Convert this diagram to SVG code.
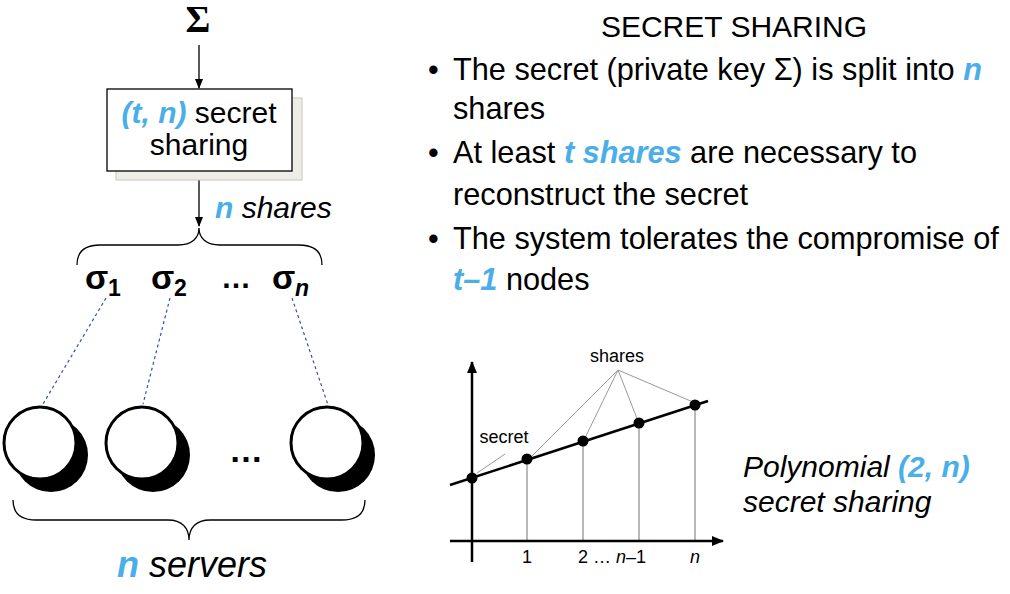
<svg xmlns="http://www.w3.org/2000/svg" width="1010" height="594" viewBox="0 0 1010 594">
<style>
.t{font-family:"Liberation Sans",Arial,sans-serif;fill:#000}
.b{fill:#4aaee8;font-weight:bold;font-style:italic}
.i{font-style:italic}
.sig{font-family:"Liberation Sans",Arial,sans-serif;font-weight:bold;font-size:34px}
.sub{font-family:"Liberation Sans",Arial,sans-serif;font-weight:bold;font-size:23px}
.bl{font-size:30.7px}
.dash{stroke:#2d52b5;stroke-width:1.2;stroke-dasharray:3 3;fill:none}
.thin{stroke:#9a9a9a;stroke-width:1;fill:none}
.grid{stroke:#8a8a8a;stroke-width:1.2;fill:none}
.brace{stroke:#000;stroke-width:1.3;fill:none}
</style>
<defs>
<marker id="ah" markerWidth="10" markerHeight="10" refX="9" refY="5" orient="auto" markerUnits="userSpaceOnUse">
<path d="M0,1 L10,5 L0,9 Z" fill="#000"/>
</marker>
<marker id="ax" markerWidth="12" markerHeight="12" refX="11" refY="6" orient="auto" markerUnits="userSpaceOnUse">
<path d="M0,1 L12,6 L0,11 Z" fill="#000"/>
</marker>
</defs>
<rect width="1010" height="594" fill="#fff"/>

<g id="connectors">
<line x1="199" y1="45" x2="199" y2="88" stroke="#000" stroke-width="1.3" marker-end="url(#ah)"/>
<line x1="199" y1="171" x2="199" y2="226" stroke="#000" stroke-width="1.3" marker-end="url(#ah)"/>
<line class="dash" x1="106" y1="298" x2="43" y2="404"/>
<line class="dash" x1="170" y1="298" x2="143" y2="404"/>
<line class="dash" x1="292" y1="298" x2="328" y2="405"/>
</g>

<g id="n-sigma">
<text x="198" y="32" text-anchor="middle" style="font-family:'Liberation Serif','DejaVu Serif',serif;font-weight:bold;font-size:38px">Σ</text>
</g>

<g id="n-box">
<rect x="116" y="98" width="186" height="82" fill="#eeede8" stroke="#c8c6c0" stroke-width="1"/>
<rect x="107" y="89" width="185" height="82" fill="#fff" stroke="#000" stroke-width="1.3"/>
<text class="t" x="199" y="123" text-anchor="middle" font-size="30"><tspan class="b">(t, n)</tspan> secret</text>
<text class="t" x="199" y="155" text-anchor="middle" font-size="30">sharing</text>
</g>

<g id="n-shares-label">
<text class="t" x="215" y="218" font-size="30"><tspan class="b">n</tspan><tspan class="i"> shares</tspan></text>
</g>

<g id="n-brace-top">
<path class="brace" d="M77,265 C77,252 84,245 100,245 L178,245 C192,245 199,238 199,228 C199,238 206,245 220,245 L299,245 C315,245 322,252 322,265"/>
</g>

<g id="n-sig1">
<text class="sig" x="85" y="289">σ</text>
<text class="sub" x="108" y="296">1</text>
</g>
<g id="n-sig2">
<text class="sig" x="151" y="289">σ</text>
<text class="sub" x="174" y="296">2</text>
</g>
<g id="n-dots-top">
<text class="t" x="236" y="288" text-anchor="middle" font-size="30" font-weight="bold">…</text>
</g>
<g id="n-sign">
<text class="sig" x="272" y="289">σ</text>
<text class="sub" x="295" y="296" font-style="italic">n</text>
</g>

<g id="n-server1">
<circle cx="51" cy="455" r="37" fill="#000"/>
<circle cx="40" cy="443" r="36" fill="#fff" stroke="#000" stroke-width="3"/>
</g>
<g id="n-server2">
<circle cx="153" cy="455" r="37" fill="#000"/>
<circle cx="142" cy="443" r="36" fill="#fff" stroke="#000" stroke-width="3"/>
</g>
<g id="n-dots-bottom">
<text class="t" x="246" y="462" text-anchor="middle" font-size="34" font-weight="bold">…</text>
</g>
<g id="n-server3">
<circle cx="338" cy="455" r="37" fill="#000"/>
<circle cx="327" cy="443" r="36" fill="#fff" stroke="#000" stroke-width="3"/>
</g>

<g id="n-brace-bottom">
<path class="brace" d="M13,500 C13,513 20,520 36,520 L168,520 C182,520 189,528 189,540 C189,528 196,520 210,520 L342,520 C358,520 365,513 365,500"/>
</g>

<g id="n-servers-label">
<text class="t" x="117" y="577" font-size="36"><tspan class="b">n</tspan><tspan class="i"> servers</tspan></text>
</g>

<g id="title">
<text class="t" x="734" y="37" text-anchor="middle" font-size="30">SECRET SHARING</text>
</g>

<g id="bullets">
<text class="t bl" x="428" y="80">•</text>
<text class="t bl" x="453" y="80">The secret (private key Σ) is split into <tspan class="b">n</tspan></text>
<text class="t bl" x="453" y="119">shares</text>
<text class="t bl" x="428" y="163">•</text>
<text class="t bl" x="453" y="163">At least <tspan class="b">t shares</tspan> are necessary to</text>
<text class="t bl" x="453" y="205">reconstruct the secret</text>
<text class="t bl" x="428" y="249">•</text>
<text class="t bl" x="453" y="249">The system tolerates the compromise of</text>
<text class="t bl" x="453" y="290"><tspan class="b">t–1</tspan> nodes</text>
</g>

<g id="chart">
<line class="grid" x1="527" y1="459" x2="527" y2="541"/>
<line class="grid" x1="583" y1="441" x2="583" y2="541"/>
<line class="grid" x1="639" y1="423" x2="639" y2="541"/>
<line class="grid" x1="695" y1="405" x2="695" y2="541"/>
<line class="thin" x1="618" y1="370" x2="530" y2="458"/>
<line class="thin" x1="618" y1="370" x2="584" y2="440"/>
<line class="thin" x1="618" y1="370" x2="638" y2="421"/>
<line class="thin" x1="618" y1="370" x2="693" y2="402"/>
<line class="thin" x1="505" y1="454" x2="477" y2="473"/>
<line x1="472" y1="562" x2="472" y2="362" stroke="#000" stroke-width="2.5" marker-end="url(#ax)"/>
<line x1="450" y1="541" x2="723" y2="541" stroke="#000" stroke-width="2.5" marker-end="url(#ax)"/>
<line x1="450" y1="485" x2="708" y2="401" stroke="#000" stroke-width="2.5"/>
<circle cx="472" cy="478" r="5.5" fill="#000"/>
<circle cx="527" cy="459" r="5.5" fill="#000"/>
<circle cx="583" cy="441" r="5.5" fill="#000"/>
<circle cx="639" cy="423" r="5.5" fill="#000"/>
<circle cx="695" cy="405" r="5.5" fill="#000"/>
<text class="t" x="617" y="362" text-anchor="middle" font-size="18" fill="#222">shares</text>
<text class="t" x="504" y="443" text-anchor="middle" font-size="18" fill="#222">secret</text>
<text class="t" x="527" y="563" text-anchor="middle" font-size="18" fill="#222">1</text>
<text class="t" x="578" y="563" font-size="18" fill="#222">2 … <tspan font-style="italic">n</tspan>–1</text>
<text class="t" x="695" y="563" text-anchor="middle" font-size="18" font-style="italic" fill="#222">n</text>
</g>

<g id="caption">
<text class="t i" x="743" y="477" font-size="30">Polynomial <tspan class="b">(2, n)</tspan></text>
<text class="t i" x="743" y="512" font-size="30">secret sharing</text>
</g>
</svg>
